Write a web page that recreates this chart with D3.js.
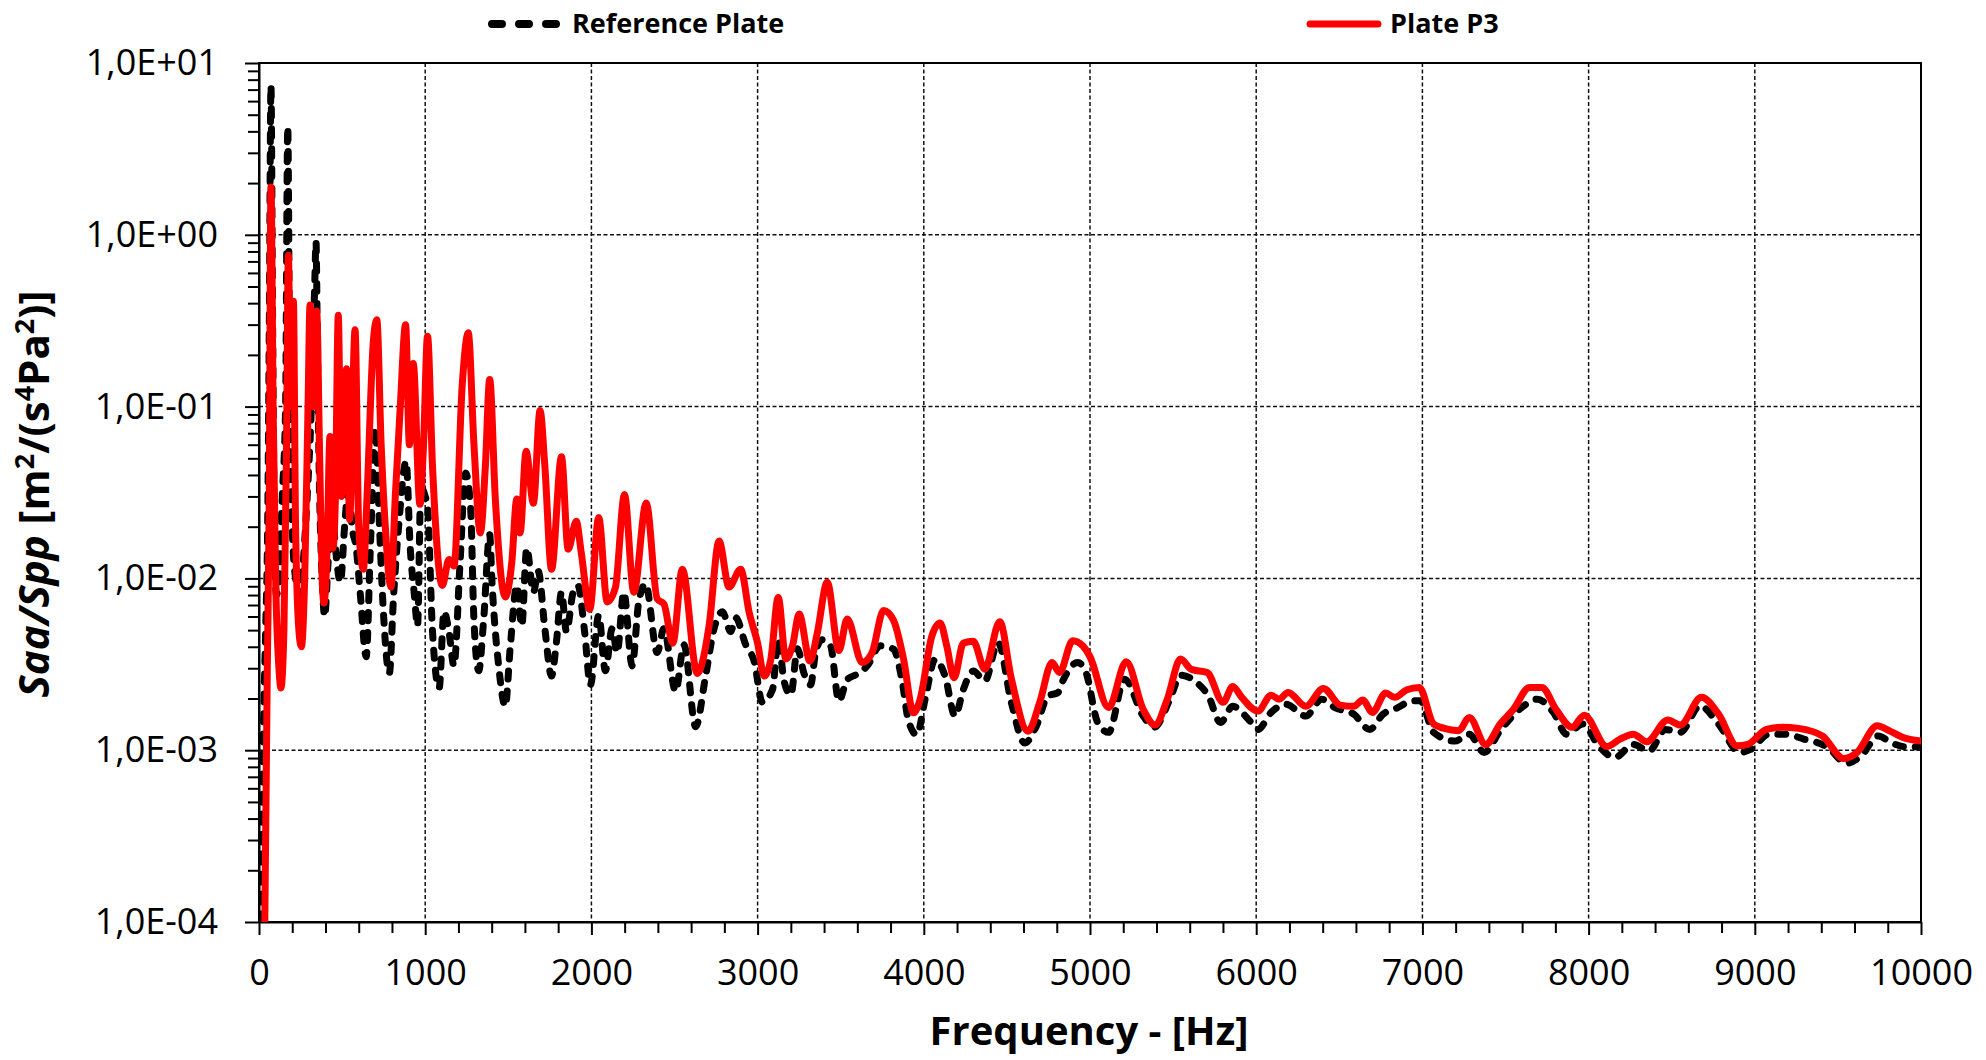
<!DOCTYPE html>
<html>
<head>
<meta charset="utf-8">
<script src="https://cdn.jsdelivr.net/npm/d3@7"></script>
<style>
  body { margin: 0; background: #fff; }
  text { font-family: "Open Sans", "Liberation Sans", sans-serif; fill: #000; }
</style>
</head>
<body>
<script>
// Tamaño de la figura y del área de trazado
const WIDTH = 1986;
const HEIGHT = 1060;
const PLOT = { left: 259, right: 1921, top: 63, bottom: 922 };

// Datos: [frecuencia Hz, Saa/Spp]
const referencePlate = [
  [8, 1.0e-4], [18, 3e-4], [28, 1.5e-3], [40, 5e-3], [52, 2e-2], [62, 0.3], [72, 7.4], [82, 0.3],
  [92, 2e-2], [105, 8e-3], [120, 1e-2], [140, 3e-2], [160, 0.1], [173, 4.26], [185, 0.12], [200, 2e-2],
  [220, 1e-2], [245, 8e-3], [265, 1.2e-2], [290, 3e-2], [315, 0.1], [335, 0.5], [343, 0.91], [352, 0.2],
  [365, 3e-2], [380, 1e-2], [395, 6e-3], [415, 1.2e-2], [440, 2.5e-2], [460, 1.5e-2], [490, 9.5e-3],
  [515, 2e-2], [540, 3.5e-2], [560, 2e-2], [585, 1.5e-2], [610, 8e-3], [645, 3.5e-3], [670, 1.5e-2],
  [700, 7.5e-2], [725, 2e-2], [750, 6e-3], [784, 2.8e-3], [810, 8e-3], [840, 2e-2], [885, 4.8e-2],
  [910, 1.5e-2], [935, 8e-3], [954, 5.3e-3], [974, 3.4e-2], [1000, 3.0e-2], [1014, 2.6e-2],
  [1044, 4.9e-3], [1084, 2.3e-3], [1113, 6.4e-3], [1143, 4.9e-3], [1173, 3.1e-3], [1209, 1.2e-2],
  [1243, 4.1e-2], [1273, 2.6e-2], [1293, 5.8e-3], [1322, 2.9e-3], [1352, 5.8e-3], [1388, 1.8e-2],
  [1402, 9.5e-3], [1442, 3.1e-3], [1482, 1.8e-3], [1511, 3.9e-3], [1551, 9.1e-3], [1581, 5.3e-3],
  [1611, 1.5e-2], [1651, 8.3e-3], [1680, 1.1e-2], [1720, 5.1e-3], [1760, 2.7e-3], [1790, 4.3e-3],
  [1820, 8.3e-3], [1850, 4.9e-3], [1890, 8.3e-3], [1919, 9.1e-3], [1959, 4.9e-3], [1994, 2.4e-3],
  [2044, 6.1e-3], [2084, 2.9e-3], [2125, 5.1e-3], [2155, 3.7e-3], [2195, 8.3e-3], [2245, 3.1e-3],
  [2285, 7.3e-3], [2326, 9.3e-3], [2396, 3.7e-3], [2436, 5.1e-3], [2507, 2.2e-3], [2557, 4.1e-3],
  [2627, 1.37e-3], [2687, 2.7e-3], [2738, 5.1e-3], [2788, 6.4e-3], [2838, 4.9e-3], [2868, 5.9e-3],
  [2929, 4.1e-3], [2979, 3.3e-3], [3029, 1.9e-3], [3090, 2.26e-3], [3124, 4.4e-3], [3160, 2.5e-3],
  [3200, 2.1e-3], [3240, 3.9e-3], [3279, 2.8e-3], [3319, 2.4e-3], [3349, 3.7e-3], [3389, 4.4e-3],
  [3439, 4.05e-3], [3489, 1.93e-3], [3539, 2.58e-3], [3599, 2.77e-3], [3659, 3.09e-3], [3738, 4.05e-3],
  [3818, 3.87e-3], [3868, 2.58e-3], [3908, 1.48e-3], [3958, 1.23e-3], [4008, 1.98e-3], [4068, 3.38e-3],
  [4128, 2.7e-3], [4188, 1.58e-3], [4238, 2.26e-3], [4298, 2.89e-3], [4367, 2.53e-3], [4447, 4.23e-3],
  [4527, 1.89e-3], [4607, 1.1e-3], [4677, 1.38e-3], [4747, 2.07e-3], [4806, 2.16e-3], [4836, 2.53e-3],
  [4926, 3.24e-3], [4976, 2.83e-3], [5046, 1.45e-3], [5112, 1.27e-3], [5208, 2.59e-3], [5320, 1.58e-3],
  [5385, 1.36e-3], [5481, 1.98e-3], [5545, 2.73e-3], [5641, 2.48e-3], [5712, 2.07e-3], [5785, 1.45e-3],
  [5859, 1.8e-3], [5962, 1.48e-3], [6010, 1.32e-3], [6090, 1.66e-3], [6179, 1.85e-3], [6298, 1.58e-3],
  [6394, 1.98e-3], [6474, 1.77e-3], [6587, 1.62e-3], [6683, 1.32e-3], [6763, 1.62e-3], [6852, 1.77e-3],
  [6939, 1.94e-3], [6987, 1.94e-3], [7067, 1.27e-3], [7195, 1.13e-3], [7282, 1.24e-3], [7372, 0.97e-3],
  [7468, 1.3e-3], [7596, 1.77e-3], [7692, 1.98e-3], [7788, 1.66e-3], [7868, 1.24e-3], [7965, 1.42e-3],
  [8061, 1.06e-3], [8157, 0.906e-3], [8269, 1.08e-3], [8365, 0.99e-3], [8461, 1.32e-3], [8551, 1.27e-3],
  [8670, 1.81e-3], [8782, 1.42e-3], [8910, 0.97e-3], [8974, 1.01e-3], [9086, 1.24e-3], [9183, 1.24e-3],
  [9295, 1.16e-3], [9439, 1.04e-3], [9551, 0.84e-3], [9641, 0.93e-3], [9743, 1.21e-3], [9824, 1.1e-3],
  [9936, 1.04e-3], [10000, 1.06e-3]
];

const plateP3 = [
  [35, 1.0e-4], [50, 3e-3], [62, 3e-2], [72, 1.9], [85, 0.1], [100, 1e-2], [120, 3e-3], [132, 2.3e-3],
  [150, 5e-3], [165, 5e-2], [177, 0.76], [190, 0.1], [207, 0.41], [220, 2e-2], [240, 5e-3], [255, 4e-3],
  [275, 1e-2], [295, 0.1], [307, 0.39], [325, 0.1], [347, 0.36], [365, 5e-2], [380, 1e-2], [391, 7.2e-3],
  [410, 1.5e-2], [427, 6.7e-2], [445, 1.5e-2], [460, 3e-2], [477, 0.34], [495, 3e-2], [527, 0.166],
  [545, 2.2e-2], [578, 0.28], [600, 2e-2], [628, 1.13e-2], [650, 3e-2], [688, 0.24], [709, 0.32],
  [735, 6e-2], [760, 2e-2], [794, 8.9e-3], [820, 3e-2], [850, 0.1], [882, 0.3], [905, 6e-2], [928, 0.178],
  [968, 2.7e-2], [990, 6e-2], [1014, 0.257], [1044, 4.5e-2], [1103, 9.1e-3], [1143, 1.29e-2],
  [1173, 1.18e-2], [1223, 0.135], [1259, 0.269], [1293, 6.1e-2], [1332, 1.84e-2], [1362, 4.5e-2],
  [1388, 0.144], [1422, 2.9e-2], [1482, 7.8e-3], [1521, 1.24e-2], [1551, 2.9e-2], [1571, 1.84e-2],
  [1607, 5.5e-2], [1651, 2.74e-2], [1691, 9.5e-2], [1720, 4.5e-2], [1760, 1.13e-2], [1820, 5.1e-2],
  [1860, 1.48e-2], [1909, 2.15e-2], [1939, 1.41e-2], [1990, 6.6e-3], [2044, 2.26e-2], [2095, 7.3e-3],
  [2145, 8.9e-3], [2199, 3.08e-2], [2255, 8.3e-3], [2330, 2.75e-2], [2396, 7.6e-3], [2436, 7.1e-3],
  [2490, 4.2e-3], [2547, 1.13e-2], [2637, 2.8e-3], [2708, 5.3e-3], [2768, 1.65e-2], [2828, 8.9e-3],
  [2898, 1.13e-2], [2949, 6.35e-3], [3000, 4.2e-3], [3040, 2.7e-3], [3080, 3.4e-3], [3124, 7.75e-3],
  [3170, 3.4e-3], [3210, 4.05e-3], [3250, 6.2e-3], [3315, 3.3e-3], [3359, 4.8e-3], [3419, 9.5e-3],
  [3489, 3.8e-3], [3539, 5.8e-3], [3629, 3.24e-3], [3689, 3.7e-3], [3758, 6.5e-3], [3818, 5.7e-3],
  [3878, 3.4e-3], [3938, 1.65e-3], [3978, 1.98e-3], [4048, 4.6e-3], [4098, 5.5e-3], [4138, 4.05e-3],
  [4182, 2.64e-3], [4238, 4.2e-3], [4298, 4.3e-3], [4367, 2.96e-3], [4457, 5.6e-3], [4527, 2.6e-3],
  [4627, 1.29e-3], [4697, 1.89e-3], [4772, 3.24e-3], [4816, 2.83e-3], [4896, 4.33e-3], [4956, 4.05e-3],
  [5000, 3.5e-3], [5112, 1.77e-3], [5218, 3.27e-3], [5320, 1.73e-3], [5391, 1.4e-3], [5465, 1.98e-3],
  [5545, 3.39e-3], [5609, 2.96e-3], [5705, 2.83e-3], [5801, 1.9e-3], [5859, 2.35e-3], [5913, 2.03e-3],
  [6010, 1.69e-3], [6090, 2.09e-3], [6138, 1.98e-3], [6192, 2.17e-3], [6298, 1.8e-3], [6404, 2.29e-3],
  [6506, 1.83e-3], [6587, 1.8e-3], [6641, 1.96e-3], [6699, 1.66e-3], [6779, 2.15e-3], [6833, 2.03e-3],
  [6907, 2.25e-3], [6981, 2.32e-3], [7067, 1.42e-3], [7131, 1.34e-3], [7218, 1.3e-3], [7282, 1.55e-3],
  [7381, 1.08e-3], [7468, 1.42e-3], [7548, 1.73e-3], [7644, 2.32e-3], [7718, 2.32e-3], [7804, 1.73e-3],
  [7900, 1.36e-3], [7974, 1.6e-3], [8109, 1.05e-3], [8189, 1.16e-3], [8269, 1.24e-3], [8349, 1.12e-3],
  [8477, 1.5e-3], [8551, 1.4e-3], [8679, 2.03e-3], [8782, 1.62e-3], [8894, 1.06e-3], [8958, 1.08e-3],
  [9070, 1.32e-3], [9167, 1.36e-3], [9263, 1.34e-3], [9407, 1.21e-3], [9535, 0.894e-3], [9615, 0.97e-3],
  [9737, 1.39e-3], [9808, 1.3e-3], [9888, 1.19e-3], [10000, 1.13e-3]
];

const xTicks = [0, 1000, 2000, 3000, 4000, 5000, 6000, 7000, 8000, 9000, 10000];
const yTicks = [1e-4, 1e-3, 1e-2, 1e-1, 1e0, 1e1];
const seriesNames = ["Reference Plate", "Plate P3"];

// Escalas
const x = d3.scaleLinear().domain([0, 10000]).range([PLOT.left, PLOT.right]);
const y = d3.scaleLog().domain([1e-4, 10]).range([PLOT.bottom, PLOT.top]);

const svg = d3.select("body").append("svg")
  .attr("width", WIDTH)
  .attr("height", HEIGHT);

// Formato "1,0E-04"
const fmtSci = (v) => {
  const e = Math.round(Math.log10(v));
  const sign = e < 0 ? "-" : "+";
  return "1,0E" + sign + String(Math.abs(e)).padStart(2, "0");
};

// Rejilla discontinua
const grid = svg.append("g").attr("stroke", "#111").attr("stroke-width", 1.5).attr("stroke-dasharray", "4 2.5");
grid.selectAll(".gx").data(xTicks.slice(1, -1)).join("line")
  .attr("x1", (d) => x(d)).attr("x2", (d) => x(d))
  .attr("y1", PLOT.top).attr("y2", PLOT.bottom);
grid.selectAll(".gy").data(yTicks.slice(1, -1)).join("line")
  .attr("x1", PLOT.left).attr("x2", PLOT.right)
  .attr("y1", (d) => y(d)).attr("y2", (d) => y(d));

// Marco del área de trazado
svg.append("rect")
  .attr("x", PLOT.left).attr("y", PLOT.top)
  .attr("width", PLOT.right - PLOT.left).attr("height", PLOT.bottom - PLOT.top)
  .attr("fill", "none").attr("stroke", "#000").attr("stroke-width", 2);

// Eje Y (mayores y menores)
const yMinor = [];
yTicks.slice(0, -1).forEach((d) => { for (let k = 2; k <= 9; k++) yMinor.push(d * k); });

svg.append("g")
  .attr("transform", `translate(${PLOT.left},0)`)
  .call(d3.axisLeft(y).tickValues(yMinor).tickFormat("").tickSize(11).tickSizeOuter(0))
  .call((g) => g.select(".domain").remove())
  .call((g) => g.selectAll("line").attr("stroke-width", 2));

const yAxis = svg.append("g")
  .attr("transform", `translate(${PLOT.left},0)`)
  .call(d3.axisLeft(y).tickValues(yTicks).tickFormat(fmtSci).tickSize(14).tickPadding(27).tickSizeOuter(0));
yAxis.select(".domain").attr("stroke-width", 2);
yAxis.selectAll("line").attr("stroke-width", 2);
yAxis.selectAll("text").attr("font-size", 36).attr("font-family", "Open Sans");

// Eje X (mayores y menores)
const xMinor = d3.range(200, 10000, 200).filter((d) => d % 1000 !== 0);
svg.append("g")
  .attr("transform", `translate(0,${PLOT.bottom})`)
  .call(d3.axisBottom(x).tickValues(xMinor).tickFormat("").tickSize(11).tickSizeOuter(0))
  .call((g) => g.select(".domain").remove())
  .call((g) => g.selectAll("line").attr("stroke-width", 2));

const xAxis = svg.append("g")
  .attr("transform", `translate(0,${PLOT.bottom})`)
  .call(d3.axisBottom(x).tickValues(xTicks).tickFormat((d) => String(d)).tickSize(13).tickPadding(24).tickSizeOuter(0));
xAxis.select(".domain").attr("stroke-width", 2);
xAxis.selectAll("line").attr("stroke-width", 2);
xAxis.selectAll("text").attr("font-size", 36).attr("font-family", "Open Sans");

// Curvas recortadas al área de trazado
svg.append("clipPath").attr("id", "clip")
  .append("rect")
  .attr("x", PLOT.left).attr("y", PLOT.top)
  .attr("width", PLOT.right - PLOT.left).attr("height", PLOT.bottom - PLOT.top);

const linea = d3.line()
  .x((d) => x(d[0]))
  .y((d) => y(d[1]))
  .curve(d3.curveMonotoneX);

const curvas = svg.append("g").attr("clip-path", "url(#clip)")
  .attr("fill", "none").attr("stroke-linecap", "round").attr("stroke-linejoin", "round");

curvas.append("path")
  .datum(referencePlate)
  .attr("d", linea)
  .attr("stroke", "#000")
  .attr("stroke-width", 7)
  .attr("stroke-dasharray", "8 12");

curvas.append("path")
  .datum(plateP3)
  .attr("d", linea)
  .attr("stroke", "#ff0000")
  .attr("stroke-width", 7);

// Leyenda
const legend = svg.append("g");
legend.append("line")
  .attr("x1", 492).attr("x2", 557).attr("y1", 24).attr("y2", 24)
  .attr("stroke", "#000").attr("stroke-width", 8)
  .attr("stroke-linecap", "round").attr("stroke-dasharray", "10 17");
legend.append("text")
  .attr("x", 572).attr("y", 33)
  .attr("font-size", 27).attr("font-weight", "bold")
  .text(seriesNames[0]);
legend.append("line")
  .attr("x1", 1310).attr("x2", 1378).attr("y1", 24).attr("y2", 24)
  .attr("stroke", "#ff0000").attr("stroke-width", 7)
  .attr("stroke-linecap", "round");
legend.append("text")
  .attr("x", 1390).attr("y", 33)
  .attr("font-size", 27).attr("font-weight", "bold")
  .text(seriesNames[1]);

// Títulos de los ejes
svg.append("text")
  .attr("x", 1089).attr("y", 1045)
  .attr("text-anchor", "middle")
  .attr("font-size", 40).attr("font-weight", "bold")
  .text("Frequency - [Hz]");

const yTitle = svg.append("text")
  .attr("transform", "translate(49,494) rotate(-90)")
  .attr("text-anchor", "middle")
  .attr("font-size", 42).attr("font-weight", "bold");
yTitle.append("tspan").attr("font-style", "italic").text("Saa/Spp");
yTitle.append("tspan").text(" [m");
yTitle.append("tspan").attr("font-size", 27).attr("dy", -15).text("2");
yTitle.append("tspan").attr("dy", 15).text("/(s");
yTitle.append("tspan").attr("font-size", 27).attr("dy", -15).text("4");
yTitle.append("tspan").attr("dy", 15).text("Pa");
yTitle.append("tspan").attr("font-size", 27).attr("dy", -15).text("2");
yTitle.append("tspan").attr("dy", 15).text(")]");
</script>
</body>
</html>
